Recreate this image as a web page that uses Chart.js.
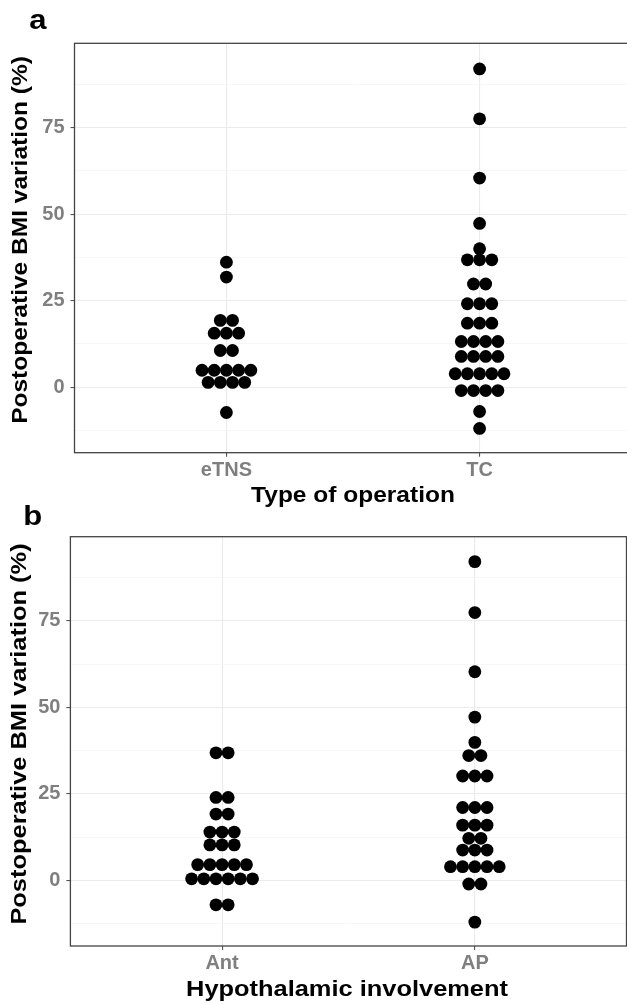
<!DOCTYPE html>
<html>
<head>
<meta charset="utf-8">
<script src="https://cdn.jsdelivr.net/npm/chart.js@4.4.1/dist/chart.umd.min.js"></script>
<style>
  html, body { margin: 0; padding: 0; background: #ffffff; overflow: hidden; width: 627px; height: 1004px; }
  #wrapA { position: absolute; left: 0; top: 0; }
  #wrapB { position: absolute; left: 0; top: 500px; }
  canvas { display: block; }
</style>
</head>
<body>
<div id="wrapA"><canvas id="chartA" width="640" height="515"></canvas></div>
<div id="wrapB"><canvas id="chartB" width="627" height="504"></canvas></div>
<script>
// ---------------- DATA ----------------
const operationCategories = ['eTNS', 'TC'];
const etnsValues = [36.1, 31.8, 19.3, 19.3, 15.6, 15.6, 15.6, 10.6, 10.6,
  4.9, 4.9, 4.9, 4.9, 4.9, 1.4, 1.4, 1.4, 1.4, -7.3];
const tcValues = [91.9, 77.5, 60.4, 47.3, 40.0, 36.8, 36.8, 36.8, 29.8, 29.8,
  24.1, 24.1, 24.1, 18.5, 18.5, 18.5, 13.2, 13.2, 13.2, 13.2,
  8.9, 8.9, 8.9, 8.9, 3.9, 3.9, 3.9, 3.9, 3.9, -0.95, -0.95, -0.95, -0.95, -7.0, -11.9];

const involvementCategories = ['Ant', 'AP'];
const antValues = [36.9, 36.9, 24.0, 24.0, 19.2, 19.2, 14.0, 14.0, 14.0, 10.3, 10.3, 10.3,
  4.6, 4.6, 4.6, 4.6, 4.6, 0.5, 0.5, 0.5, 0.5, 0.5, 0.5, -7.0, -7.0];
const apValues = [92.1, 77.4, 60.3, 47.2, 39.9, 36.1, 36.1, 30.2, 30.2, 30.2,
  21.1, 21.1, 21.1, 16.0, 16.0, 16.0, 12.2, 12.2, 8.8, 8.8, 8.8,
  4.0, 4.0, 4.0, 4.0, 4.0, -1.0, -1.0, -12.0];

const yTickLabels = [0, 25, 50, 75];
const yGridValues = [-12.5, 0, 12.5, 25, 37.5, 50, 62.5, 75, 87.5];
const yAxisTitle = 'Postoperative BMI variation (%)';
const xTitleA = 'Type of operation';
const xTitleB = 'Hypothalamic involvement';

// ---------------- HELPERS ----------------
const FONT = "'Liberation Sans', Arial, Helvetica, sans-serif";
const DOT_STEP = 0.0482;   // horizontal stacking step (x units)
const Y_MIN = -18.9, Y_MAX = 99.3;

function dotPoints(values, catIndex) {
  const rows = [];
  values.forEach(v => {
    let r = rows.find(r => r.v === v);
    if (!r) { r = { v: v, n: 0 }; rows.push(r); }
    r.n++;
  });
  const pts = [];
  rows.forEach(r => {
    for (let j = 0; j < r.n; j++) {
      pts.push({ x: catIndex + (j - (r.n - 1) / 2) * DOT_STEP, y: r.v });
    }
  });
  return pts;
}

const panelPlugin = {
  id: 'panelText',
  afterDraw(chart, args, opts) {
    const ctx = chart.ctx;
    const ca = chart.chartArea;
    // panel border
    ctx.save();
    ctx.strokeStyle = '#444444';
    ctx.lineWidth = 1.3;
    ctx.strokeRect(ca.left, ca.top, ca.right - ca.left, ca.bottom - ca.top);
    ctx.restore();

    function drawText(text, x, y, size, stretch, rotate) {
      ctx.save();
      ctx.fillStyle = '#000000';
      ctx.font = 'bold ' + size + 'px ' + FONT;
      ctx.textAlign = 'center';
      ctx.textBaseline = 'alphabetic';
      ctx.translate(x, y);
      if (rotate) ctx.rotate(-Math.PI / 2);
      ctx.scale(stretch, 1);
      ctx.fillText(text, 0, 0);
      ctx.restore();
    }
    drawText(opts.letter, opts.letterX, opts.letterY, 27, 1.15, false);
    drawText(opts.xTitle, opts.xTitleX, opts.xTitleY, opts.size, opts.stretch, false);
    drawText(opts.yTitle, opts.yTitleX, opts.yTitleY, opts.size, opts.stretch, true);
  }
};

function makeChart(canvasId, cats, valsA, valsB, cfg) {
  const data = {
    datasets: [
      { data: dotPoints(valsA, 1) },
      { data: dotPoints(valsB, 2) }
    ]
  };
  return new Chart(document.getElementById(canvasId), {
    type: 'scatter',
    data: data,
    plugins: [panelPlugin],
    options: {
      responsive: false,
      animation: false,
      devicePixelRatio: 1,
      events: [],
      layout: { autoPadding: false, padding: { left: 0, top: cfg.top, right: cfg.right, bottom: 0 } },
      elements: {
        point: { radius: 6.4, backgroundColor: '#000000', borderWidth: 0, hoverRadius: 6.4 }
      },
      plugins: {
        legend: { display: false },
        tooltip: { enabled: false },
        panelText: cfg.text
      },
      scales: {
        x: {
          type: 'linear',
          min: 0.4, max: 2.6,
          afterBuildTicks: s => { s.ticks = [{ value: 1 }, { value: 2 }]; },
          afterFit: s => { s.height = cfg.xAxisHeight; s.paddingLeft = 0; s.paddingRight = 0; },
          border: { display: false },
          grid: {
            color: '#ebebeb', lineWidth: 1.1,
            tickColor: '#555555', tickLength: 4, tickWidth: 1.1
          },
          ticks: {
            autoSkip: false, maxRotation: 0, padding: 1.5,
            color: '#7f7f7f',
            font: { family: FONT, size: 20, weight: 'bold' },
            callback: v => cats[v - 1]
          }
        },
        y: {
          type: 'linear',
          min: Y_MIN, max: Y_MAX,
          afterBuildTicks: s => { s.ticks = yGridValues.map(v => ({ value: v })); },
          afterFit: s => { s.width = cfg.yAxisWidth; s.paddingTop = 0; s.paddingBottom = 0; },
          border: { display: false },
          grid: {
            color: c => (yTickLabels.includes(c.tick.value) ? '#ebebeb' : '#f3f3f3'),
            lineWidth: c => (yTickLabels.includes(c.tick.value) ? 1.1 : 0.7),
            tickColor: c => (yTickLabels.includes(c.tick.value) ? '#555555' : 'rgba(0,0,0,0)'),
            tickLength: 4, tickWidth: 1.1
          },
          ticks: {
            autoSkip: false, padding: 6,
            color: '#7f7f7f',
            font: { family: FONT, size: 20, weight: 'bold' },
            callback: v => (yTickLabels.includes(v) ? String(v) : '')
          }
        }
      }
    }
  });
}

makeChart('chartA', operationCategories, etnsValues, tcValues, {
  top: 43.3, right: 8.5, xAxisHeight: 62.3, yAxisWidth: 74.5,
  text: {
    size: 21.5, stretch: 1.14,
    letter: 'a', letterX: 38, letterY: 28.5,
    xTitle: xTitleA, xTitleX: 353, xTitleY: 502,
    yTitle: yAxisTitle, yTitleX: 26.5, yTitleY: 240
  }
});

makeChart('chartB', involvementCategories, antValues, apValues, {
  top: 36.7, right: 0.5, xAxisHeight: 58, yAxisWidth: 70.4,
  text: {
    size: 22, stretch: 1.155,
    letter: 'b', letterX: 32.7, letterY: 25,
    xTitle: xTitleB, xTitleX: 347, xTitleY: 496,
    yTitle: yAxisTitle, yTitleX: 25.5, yTitleY: 234
  }
});
</script>
</body>
</html>
